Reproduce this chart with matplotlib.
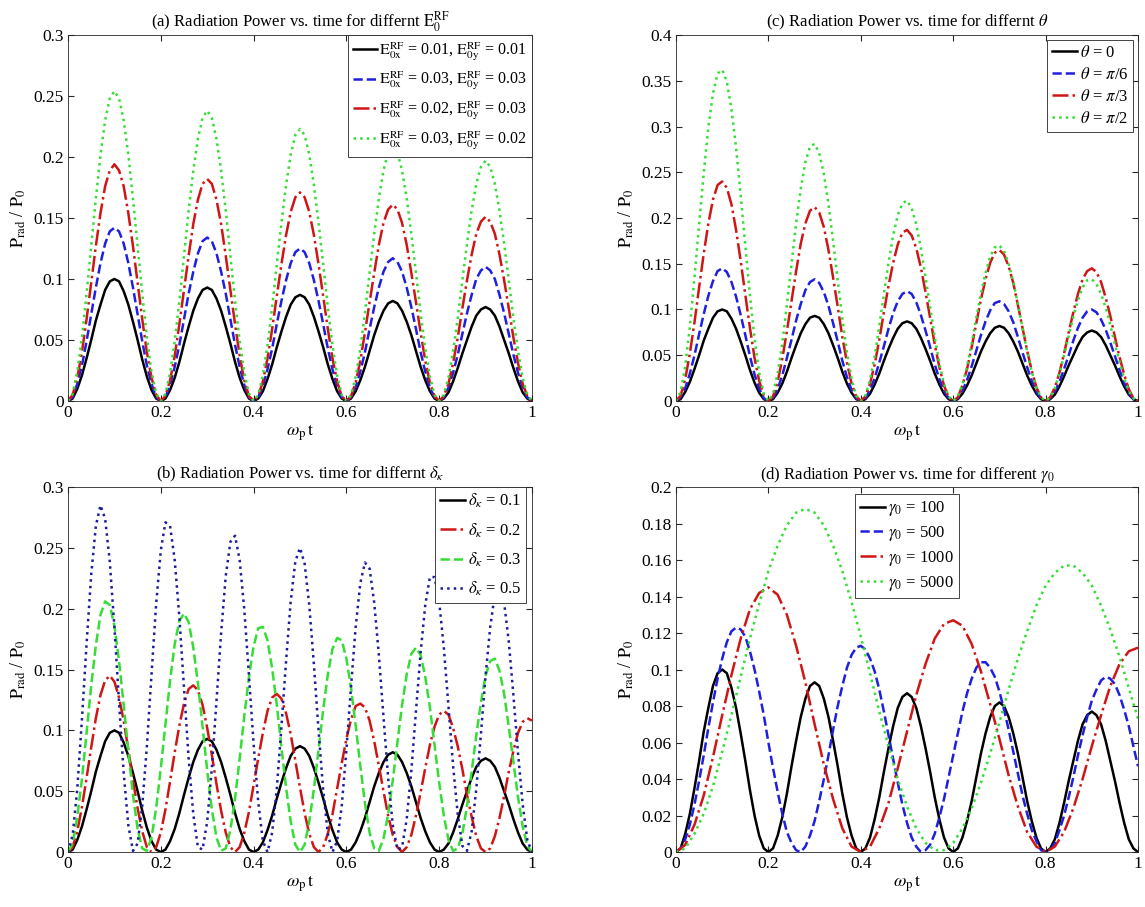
import numpy as np
import matplotlib.pyplot as plt

plt.rcParams['font.family'] = ['Liberation Serif', 'DejaVu Serif']
plt.rcParams['mathtext.fontset'] = 'stix'

# sample times
t01 = np.linspace(0, 1, 101)
t02 = np.linspace(0, 1, 51)

# base curve (E=0.01, theta=0, delta=0.1, gamma=100), 0.01 steps
p_base = [0, .002, .010, .021, .035, .050, .066, .079, .091, .098,
          .100, .098, .090, .079, .065, .050, .034, .020, .009, .002,
          0, .002, .009, .019, .032, .047, .061, .074, .084, .091,
          .093, .091, .084, .074, .061, .047, .032, .019, .009, .002,
          0, .002, .008, .018, .030, .044, .057, .069, .079, .085,
          .087, .085, .079, .069, .057, .044, .030, .018, .008, .002,
          0, .002, .008, .017, .028, .041, .054, .065, .074, .080,
          .082, .080, .074, .065, .054, .041, .028, .017, .008, .002,
          0, .002, .007, .016, .027, .039, .050, .061, .070, .075,
          .077, .075, .070, .061, .050, .039, .027, .016, .007, .002, 0]

# (a) different E0^RF
a_blue = [0, .003, .014, .029, .049, .071, .093, .113, .129, .139,
          .142, .139, .129, .113, .093, .071, .049, .029, .014, .003,
          0, .003, .013, .028, .046, .067, .088, .106, .121, .131,
          .134, .131, .121, .106, .088, .067, .046, .028, .013, .003,
          0, .003, .012, .026, .043, .063, .082, .099, .113, .122,
          .125, .122, .113, .099, .082, .063, .043, .026, .012, .003,
          0, .003, .011, .024, .040, .059, .077, .093, .106, .114,
          .117, .114, .106, .093, .077, .059, .040, .024, .011, .003,
          0, .003, .011, .023, .038, .055, .072, .087, .100, .107,
          .110, .107, .100, .087, .072, .055, .038, .023, .011, .003, 0]
a_red = [0, .005, .019, .040, .067, .097, .127, .154, .176, .189,
         .194, .189, .176, .154, .127, .097, .067, .040, .019, .005,
         0, .004, .017, .037, .063, .091, .119, .145, .165, .178,
         .182, .178, .165, .145, .119, .091, .063, .037, .017, .004,
         0, .004, .016, .035, .059, .086, .112, .136, .155, .167,
         .171, .167, .155, .136, .112, .086, .059, .035, .016, .004,
         0, .004, .015, .033, .056, .081, .105, .128, .146, .157,
         .161, .157, .146, .128, .105, .081, .056, .033, .015, .004,
         0, .004, .014, .031, .052, .076, .099, .120, .137, .147,
         .151, .147, .137, .120, .099, .076, .052, .031, .014, .004, 0]
a_green = [0, .006, .024, .052, .088, .127, .166, .202, .230, .248,
           .254, .248, .230, .202, .166, .127, .088, .052, .024, .006,
           0, .006, .023, .049, .082, .119, .156, .189, .215, .232,
           .238, .232, .215, .189, .156, .119, .082, .049, .023, .006,
           0, .005, .021, .046, .077, .112, .146, .177, .202, .218,
           .223, .218, .202, .177, .146, .112, .077, .046, .021, .005,
           0, .005, .020, .043, .072, .105, .137, .166, .189, .204,
           .209, .204, .189, .166, .137, .105, .072, .043, .020, .005,
           0, .005, .019, .041, .068, .099, .129, .156, .178, .192,
           .197, .192, .178, .156, .129, .099, .068, .041, .019, .005, 0]
a_labels = [r'$\mathrm{E_{0x}^{RF}}$ = 0.01, $\mathrm{E_{0y}^{RF}}$ = 0.01',
            r'$\mathrm{E_{0x}^{RF}}$ = 0.03, $\mathrm{E_{0y}^{RF}}$ = 0.03',
            r'$\mathrm{E_{0x}^{RF}}$ = 0.02, $\mathrm{E_{0y}^{RF}}$ = 0.03',
            r'$\mathrm{E_{0x}^{RF}}$ = 0.03, $\mathrm{E_{0y}^{RF}}$ = 0.02']

# (c) different theta
c_blue = [0, .004, .014, .030, .050, .073, .095, .115, .131, .142,
          .145, .141, .130, .114, .094, .072, .049, .029, .014, .003,
          0, .003, .013, .028, .047, .067, .088, .106, .121, .130,
          .133, .129, .119, .104, .085, .065, .044, .026, .012, .003,
          0, .003, .012, .025, .042, .060, .079, .096, .109, .117,
          .120, .117, .108, .094, .077, .059, .040, .024, .011, .003,
          0, .003, .011, .023, .038, .055, .072, .087, .099, .107,
          .109, .106, .098, .086, .070, .053, .037, .022, .010, .003,
          0, .003, .010, .021, .035, .050, .066, .080, .091, .098,
          .100, .097, .089, .078, .064, .049, .034, .020, .009, .002, 0]
c_red = [0, .006, .024, .052, .086, .124, .161, .194, .220, .236,
         .240, .233, .215, .187, .153, .116, .080, .047, .022, .006,
         0, .005, .021, .046, .076, .109, .142, .172, .194, .208,
         .212, .206, .190, .165, .135, .103, .070, .042, .019, .005,
         0, .005, .019, .040, .067, .097, .126, .151, .171, .184,
         .187, .181, .167, .146, .119, .091, .062, .037, .017, .004,
         0, .004, .017, .035, .059, .085, .111, .133, .151, .162,
         .165, .160, .147, .129, .105, .080, .055, .033, .015, .004,
         0, .004, .015, .031, .052, .075, .097, .117, .133, .142,
         .145, .141, .130, .113, .093, .070, .048, .029, .013, .003, 0]
c_green = [0, .010, .038, .081, .135, .193, .249, .299, .336, .358,
           .362, .349, .319, .277, .225, .170, .116, .068, .031, .008,
           0, .008, .030, .063, .105, .150, .194, .232, .261, .278,
           .281, .271, .248, .215, .175, .132, .090, .053, .024, .006,
           0, .006, .023, .049, .082, .117, .151, .181, .203, .216,
           .219, .211, .193, .167, .136, .103, .070, .041, .019, .005,
           0, .005, .018, .038, .063, .091, .117, .140, .158, .168,
           .170, .164, .150, .130, .106, .080, .054, .032, .015, .004,
           0, .004, .014, .030, .050, .071, .092, .110, .124, .132,
           .133, .128, .117, .102, .083, .062, .043, .025, .011, .003, 0]
c_labels = [r'$\theta$ = 0', r'$\theta$ = $\pi$/6', r'$\theta$ = $\pi$/3', r'$\theta$ = $\pi$/2']

# (b) different delta_kappa
b_red = [0, .004, .017, .037, .061, .086, .110, .129, .141, .145,
         .140, .127, .108, .084, .059, .036, .017, .004, 0, .004,
         .016, .035, .058, .082, .104, .122, .134, .137, .133, .121,
         .102, .080, .056, .034, .016, .004, 0, .004, .016, .033,
         .055, .077, .098, .116, .127, .130, .126, .114, .097, .075,
         .053, .032, .015, .004, 0, .004, .015, .031, .052, .073,
         .093, .109, .120, .122, .119, .108, .091, .071, .050, .030,
         .014, .004, 0, .004, .014, .030, .049, .069, .088, .103,
         .113, .116, .113, .102, .087, .068, .047, .029, .013, .003,
         0, .003, .013, .028, .046, .066, .083, .098, .107, .110, .108]
b_green = [0, .007, .029, .060, .098, .137, .170, .195, .206, .203,
           .186, .157, .121, .083, .047, .019, .003, .001, .012, .036,
           .069, .105, .141, .171, .190, .196, .189, .168, .139, .103,
           .067, .035, .012, .001, .003, .018, .044, .077, .112, .144,
           .169, .184, .185, .174, .151, .121, .086, .053, .025, .006,
           0, .006, .025, .052, .084, .117, .146, .167, .176, .174,
           .159, .135, .104, .071, .040, .016, .003, .001, .011, .031,
           .059, .090, .121, .146, .163, .168, .162, .144, .119, .088,
           .057, .030, .010, .001, .003, .015, .038, .066, .096, .123,
           .145, .157, .159, .149, .130, .103, .074, .045, .021, .005, 0]
b_blue = [0, .014, .052, .109, .171, .228, .268, .285, .274, .239,
          .185, .123, .065, .022, .001, .007, .038, .087, .146, .204,
          .248, .271, .268, .240, .193, .135, .077, .031, .004, .002,
          .025, .069, .124, .180, .227, .255, .260, .240, .199, .145,
          .089, .041, .009, .000, .016, .052, .103, .157, .206, .239,
          .250, .237, .203, .154, .100, .051, .015, .000, .009, .038,
          .084, .136, .185, .221, .238, .233, .205, .162, .111, .061,
          .022, .002, .004, .027, .067, .116, .164, .203, .226, .226,
          .206, .168, .120, .071, .031, .005, .001, .017, .052, .097,
          .145, .185, .212, .219, .205, .173, .129, .081, .039, .010, 0]
b_labels = [r'$\delta_\kappa$ = 0.1', r'$\delta_\kappa$ = 0.2', r'$\delta_\kappa$ = 0.3', r'$\delta_\kappa$ = 0.5']

# (d) different gamma_0 (blue in 0.01 steps, red/green in 0.02 steps)
d_blue = [0, .002, .007, .015, .026, .039, .053, .068, .082, .095,
          .106, .115, .121, .123, .122, .118, .110, .100, .088, .075,
          .060, .046, .033, .021, .011, .005, .001, .000, .003, .009,
          .017, .028, .040, .053, .067, .080, .091, .101, .108, .112,
          .113, .111, .106, .099, .089, .077, .064, .051, .038, .026,
          .016, .008, .003, .000, .001, .004, .010, .019, .029, .041,
          .053, .065, .077, .087, .095, .101, .104, .104, .101, .096,
          .088, .078, .067, .055, .043, .031, .021, .012, .006, .001,
          0, .001, .005, .012, .020, .030, .041, .053, .064, .074,
          .083, .089, .094, .096, .095, .092, .086, .078, .069, .058, .047]
d_red = [0, .004, .015, .031, .052, .075, .097, .117, .133, .142,
         .145, .141, .130, .113, .093, .070, .048, .029, .013, .003,
         0, .003, .013, .027, .046, .066, .086, .103, .117, .125,
         .127, .124, .114, .099, .081, .062, .042, .025, .011, .003,
         0, .003, .011, .024, .040, .058, .075, .091, .103, .110, .112]
d_green = [0, .002, .010, .021, .036, .055, .075, .096, .117, .136,
           .154, .168, .179, .186, .188, .186, .179, .168, .154, .137,
           .118, .098, .077, .058, .040, .025, .013, .005, .001, .001,
           .005, .013, .024, .038, .054, .071, .089, .106, .121, .135,
           .146, .153, .157, .157, .153, .146, .135, .122, .107, .090, .073]
d_labels = [r'$\gamma_0$ = 100', r'$\gamma_0$ = 500', r'$\gamma_0$ = 1000', r'$\gamma_0$ = 5000']

BLK = 'k'
BLU = '#1f1fe0'
RED = '#d01515'
GRN = '#35dd35'
NAVY = '#1c1c9c'
lw = 1.8
fs = 12.5

fig = plt.figure(figsize=(11.45, 9.07), dpi=100)
ax_a = fig.add_axes([0.0594, 0.5579, 0.4052, 0.4035])
ax_c = fig.add_axes([0.5904, 0.5579, 0.4035, 0.4035])
ax_b = fig.add_axes([0.0594, 0.0606, 0.4052, 0.4024])
ax_d = fig.add_axes([0.5904, 0.0606, 0.4035, 0.4024])


def style(ax, ymax, ystep, title):
    ax.set_xlim(0, 1)
    ax.set_ylim(0, ymax)
    ax.set_xticks(np.arange(0, 1.01, 0.2))
    ax.set_yticks(np.arange(0, ymax + 1e-9, ystep))
    ax.xaxis.set_major_formatter(plt.FuncFormatter(lambda v, p: '%g' % round(v, 3)))
    ax.yaxis.set_major_formatter(plt.FuncFormatter(lambda v, p: '%g' % round(v, 3)))
    ax.tick_params(direction='in', top=True, right=True, labelsize=fs, length=4,
                   color='#262626', pad=3)
    for s in ax.spines.values():
        s.set_color('#262626')
        s.set_linewidth(0.6)
    ax.set_title(title, fontsize=12, pad=6)
    ax.set_xlabel(r'$\omega_\mathrm{p}\,\mathrm{t}$', fontsize=13, labelpad=1)
    ax.set_ylabel(r'$\mathrm{P_{rad}}$ / $\mathrm{P_0}$', fontsize=13, labelpad=4)


# (a)
ax_a.plot(t01, p_base, color=BLK, lw=lw, label=a_labels[0])
ax_a.plot(t01, a_blue, '--', color=BLU, lw=lw, label=a_labels[1])
ax_a.plot(t01, a_red, '-.', color=RED, lw=lw, label=a_labels[2])
ax_a.plot(t01, a_green, ':', color=GRN, lw=lw, label=a_labels[3])
style(ax_a, 0.3, 0.05, r'(a) Radiation Power vs. time for differnt $\mathrm{E_0^{RF}}$')

# (c)
ax_c.plot(t01, p_base, color=BLK, lw=lw, label=c_labels[0])
ax_c.plot(t01, c_blue, '--', color=BLU, lw=lw, label=c_labels[1])
ax_c.plot(t01, c_red, '-.', color=RED, lw=lw, label=c_labels[2])
ax_c.plot(t01, c_green, ':', color=GRN, lw=lw, label=c_labels[3])
style(ax_c, 0.4, 0.05, r'(c) Radiation Power vs. time for differnt $\theta$')

# (b)
ax_b.plot(t01, p_base, color=BLK, lw=lw, label=b_labels[0])
ax_b.plot(t01, b_red, '-.', color=RED, lw=lw, label=b_labels[1])
ax_b.plot(t01, b_green, '--', color=GRN, lw=lw, label=b_labels[2])
ax_b.plot(t01, b_blue, ':', color=NAVY, lw=lw, label=b_labels[3])
style(ax_b, 0.3, 0.05, r'(b) Radiation Power vs. time for differnt $\delta_\kappa$')

# (d)
ax_d.plot(t01, p_base, color=BLK, lw=lw, label=d_labels[0])
ax_d.plot(t01, d_blue, '--', color=BLU, lw=lw, label=d_labels[1])
ax_d.plot(t02, d_red, '-.', color=RED, lw=lw, label=d_labels[2])
ax_d.plot(t02, d_green, ':', color=GRN, lw=lw, label=d_labels[3])
style(ax_d, 0.2, 0.02, r'(d) Radiation Power vs. time for different $\gamma_0$')

leg_kw = dict(fancybox=False, framealpha=1, edgecolor='#262626',
              handlelength=1.5, handletextpad=0.15, borderpad=0.3)
lg_a = ax_a.legend(loc='upper right', borderaxespad=0.0, fontsize=11.5,
                   labelspacing=0.45, **leg_kw)
lg_c = ax_c.legend(loc='upper right', borderaxespad=0.3, fontsize=12,
                   labelspacing=0.35, **leg_kw)
lg_b = ax_b.legend(loc='upper right', bbox_to_anchor=(0.988, 1.0), borderaxespad=0.0,
                   fontsize=12, labelspacing=0.65, **leg_kw)
lg_d = ax_d.legend(loc='upper center', bbox_to_anchor=(0.5, 0.98), borderaxespad=0.0,
                   fontsize=12, labelspacing=0.35, **leg_kw)
for lg in (lg_a, lg_c, lg_b, lg_d):
    lg.get_frame().set_linewidth(0.6)

fig.savefig('out.png', dpi=100)
